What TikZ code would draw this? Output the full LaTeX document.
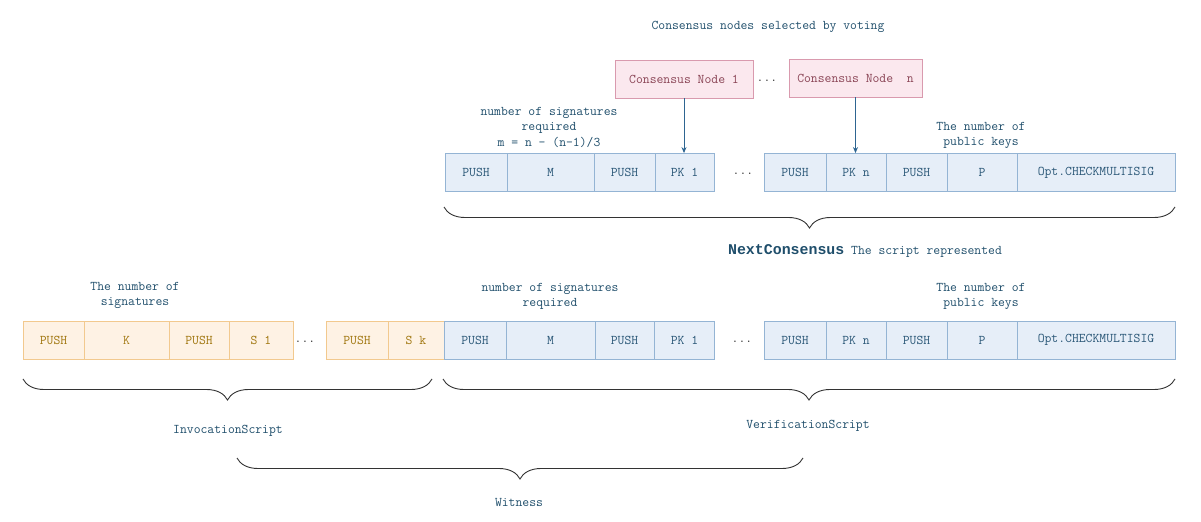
\documentclass[tikz,border=0pt]{standalone}
\usepackage{fontspec}
\setmainfont{Liberation Mono}
\newfontfamily\boldmono{Liberation Mono}
\usetikzlibrary{decorations.pathreplacing,arrows.meta}
\definecolor{bfill}{HTML}{E6EEF8}
\definecolor{bdraw}{HTML}{94B4D4}
\definecolor{btext}{HTML}{2A5777}
\definecolor{ofill}{HTML}{FEF2E4}
\definecolor{odraw}{HTML}{F2C98E}
\definecolor{otext}{HTML}{A0760E}
\definecolor{pfill}{HTML}{FBE8EE}
\definecolor{pdraw}{HTML}{D99AAE}
\definecolor{ptext}{HTML}{8A4455}
\definecolor{lbl}{HTML}{1F4E6B}
\definecolor{arrcol}{HTML}{2E6591}
\definecolor{brcol}{HTML}{333333}
\begin{document}
\begin{tikzpicture}[x=1bp,y=-1bp,
  txt/.style={font=\ttfamily\fontsize{13.3bp}{15.5bp}\selectfont, inner sep=0pt},
  cell/.style={txt, draw, minimum height=38bp, line width=0.8bp},
  cellb/.style={cell, draw=bdraw, fill=bfill, text=btext},
  cello/.style={cell, draw=odraw, fill=ofill, text=otext},
  cons/.style={cell, draw=pdraw, fill=pfill, text=ptext},
  lab/.style={txt, text=lbl, align=center},
  dotsn/.style={txt, text=brcol},
  arr/.style={draw=arrcol, line width=1bp, -{Stealth[length=6bp,width=5bp]}},
  brc/.style={decorate, decoration={brace, amplitude=21bp}, draw=brcol, line width=0.9bp},
]
\useasboundingbox (0,0) rectangle (1201,522);

% title and consensus nodes
\node[lab] (title) at (768,27) {Consensus nodes selected by voting};
\node[cons, minimum width=138bp] (n1) at (684,79) {Consensus Node 1};
\node[dotsn] (cdots) at (767,81) {...};
\node[cons, minimum width=133bp] (n2) at (855.5,78) {Consensus Node~~n};

% top row
\node[lab] (tl1) at (549,127) {number of signatures\\required\\m = n - (n-1)/3};
\node[lab] (tl2) at (981,135.5) {The number of\\public keys};
\node[cellb, minimum width=62bp] (t1) at (476,172.5) {PUSH};
\node[cellb, minimum width=87bp] (t2) at (550.5,172.5) {M};
\node[cellb, minimum width=61bp] (t3) at (624.5,172.5) {PUSH};
\node[cellb, minimum width=59bp] (t4) at (684.5,172.5) {PK 1};
\node[dotsn] (tdots) at (743,174) {...};
\node[cellb, minimum width=62bp] (t5) at (795,172.5) {PUSH};
\node[cellb, minimum width=60bp] (t6) at (856,172.5) {PK n};
\node[cellb, minimum width=61bp] (t7) at (916.5,172.5) {PUSH};
\node[cellb, minimum width=70bp] (t8) at (982,172.5) {P};
\node[cellb, minimum width=158bp] (t9) at (1096,172.5) {Opt.CHECKMULTISIG};

\draw[arr] (n1.south) -- (n1.south |- t4.north);
\draw[arr] (n2.south) -- (n2.south |- t6.north);

\coordinate (ba1) at (1175,207);
\coordinate (ba2) at (444,207);
\draw[brc] (ba1) -- (ba2);
\node[txt, text=lbl] (nc) at (865,251) {{\boldmono\fontsize{14.9bp}{16bp}\selectfont\bfseries NextConsensus} The script represented};

% bottom row
\node[lab] (bl0) at (135,295.5) {The number of\\signatures};
\node[lab] (bl1) at (550,296.5) {number of signatures\\required};
\node[lab] (bl2) at (981,296.5) {The number of\\public keys};

\node[cello, minimum width=61bp] (o1) at (53.5,340) {PUSH};
\node[cello, minimum width=85bp] (o2) at (126.5,340) {K};
\node[cello, minimum width=60bp] (o3) at (199,340) {PUSH};
\node[cello, minimum width=64bp] (o4) at (261,340) {S 1};
\node[dotsn] (odots) at (305,342) {...};
\node[cello, minimum width=62bp] (o5) at (357,340) {PUSH};
\node[cello, minimum width=56bp] (o6) at (416,340) {S k};

\node[cellb, minimum width=62bp] (b1) at (475,340) {PUSH};
\node[cellb, minimum width=89bp] (b2) at (550.5,340) {M};
\node[cellb, minimum width=59bp] (b3) at (624.5,340) {PUSH};
\node[cellb, minimum width=60bp] (b4) at (684.5,340) {PK 1};
\node[dotsn] (bdots) at (742,342) {...};
\node[cellb, minimum width=62bp] (b5) at (795,340) {PUSH};
\node[cellb, minimum width=60bp] (b6) at (856,340) {PK n};
\node[cellb, minimum width=61bp] (b7) at (916.5,340) {PUSH};
\node[cellb, minimum width=70bp] (b8) at (982,340) {P};
\node[cellb, minimum width=158bp] (b9) at (1096,340) {Opt.CHECKMULTISIG};

\coordinate (bi1) at (432,379);
\coordinate (bi2) at (23,379);
\draw[brc] (bi1) -- (bi2);
\coordinate (bv1) at (1175,379);
\coordinate (bv2) at (443,379);
\draw[brc] (bv1) -- (bv2);
\node[lab] (inv) at (228,431) {InvocationScript};
\node[lab] (ver) at (808,426) {VerificationScript};

\coordinate (bw1) at (803,458);
\coordinate (bw2) at (237,458);
\draw[brc] (bw1) -- (bw2);
\node[lab] (wit) at (519,502) {Witness};
\end{tikzpicture}
\end{document}
